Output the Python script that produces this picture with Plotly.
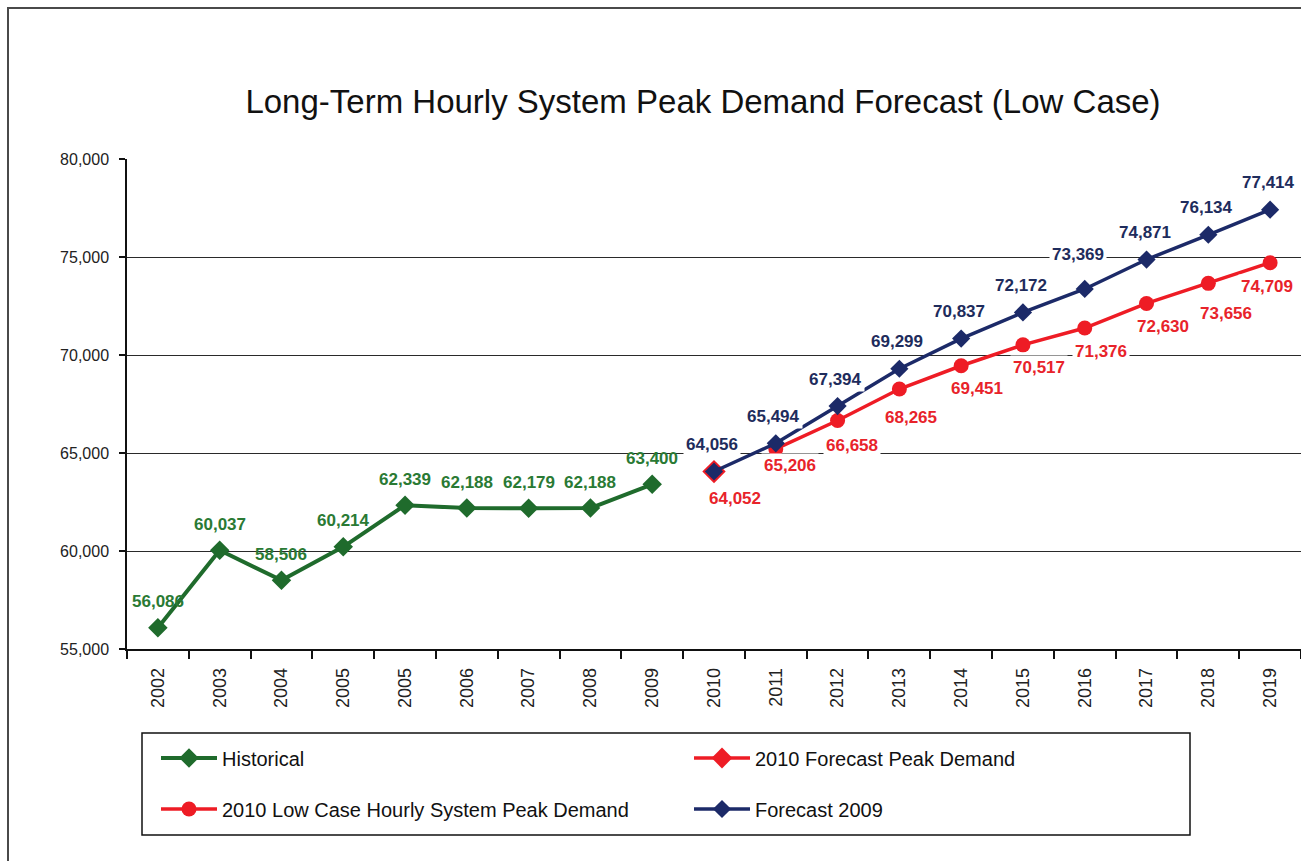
import plotly.graph_objects as go

# ---------------- data ----------------
years = ["2002", "2003", "2004", "2005", "2005", "2006", "2007", "2008", "2009",
         "2010", "2011", "2012", "2013", "2014", "2015", "2016", "2017", "2018", "2019"]
historical = [56086, 60037, 58506, 60214, 62339, 62188, 62179, 62188, 63400]
forecast_peak_2010 = [64052]
low_case_2010 = [65206, 66658, 68265, 69451, 70517, 71376, 72630, 73656, 74709]
forecast_2009 = [64056, 65494, 67394, 69299, 70837, 72172, 73369, 74871, 76134, 77414]
y_tick_values = [55000, 60000, 65000, 70000, 75000, 80000]

title_text = "Long-Term Hourly System Peak Demand Forecast (Low Case)"

# category positions (index on the category axis)
pos = list(range(len(years)))
x_hist = pos[0:len(historical)]
x_peak = pos[9:10]
x_low = pos[10:10 + len(low_case_2010)]
x_f09 = pos[9:9 + len(forecast_2009)]

FONT = "Liberation Sans, Arial, sans-serif"
GREEN = "#1f6b2c"
RED = "#ee1c25"
NAVY = "#1c2a68"

fig = go.Figure()

fig.add_trace(go.Scatter(
    x=x_hist, y=historical, name="Historical", mode="lines+markers",
    line=dict(color=GREEN, width=4),
    marker=dict(symbol="diamond", size=15, color=GREEN),
    legend="legend"))

fig.add_trace(go.Scatter(
    x=x_peak, y=forecast_peak_2010, name="2010 Forecast Peak Demand", mode="lines+markers",
    line=dict(color=RED, width=3.5),
    marker=dict(symbol="diamond", size=18, color=RED),
    legend="legend"))

fig.add_trace(go.Scatter(
    x=x_low, y=low_case_2010, name="2010 Low Case Hourly System Peak Demand",
    mode="lines+markers",
    line=dict(color=RED, width=3.5),
    marker=dict(symbol="circle", size=15, color=RED),
    legend="legend2"))

fig.add_trace(go.Scatter(
    x=x_f09, y=forecast_2009, name="Forecast 2009", mode="lines+markers",
    line=dict(color=NAVY, width=3.5),
    marker=dict(symbol="diamond", size=14, color=NAVY),
    legend="legend2"))

# ---------------- data labels ----------------
label_style = {
    "hist": dict(color="#2a7a34", dx=0, dy=26, bg=None),
    "peak": dict(color="#e8232a", dx=21, dy=-27, bg="white"),
    "low": dict(color="#e8232a", dx=16, dy=-23, bg="white"),
    "f09": dict(color="#1e2c5c", dx=-2, dy=27, bg="white"),
}
label_override = {
    ("low", 10): (14, -17),
    ("low", 11): (14, -25),
    ("low", 12): (12, -28),
    ("low", 17): (18, -30),
    ("low", 18): (-3, -24),
    ("f09", 15): (-7, 34),
}

def add_labels(key, xs, ys):
    st = label_style[key]
    for xi, yi in zip(xs, ys):
        dx, dy = label_override.get((key, xi), (st["dx"], st["dy"]))
        kw = dict(bgcolor=st["bg"], borderpad=2) if st["bg"] else {}
        fig.add_annotation(
            x=xi, y=yi, xref="x", yref="y", text=f"{yi:,}", showarrow=False,
            xshift=dx, yshift=dy, xanchor="center", yanchor="middle",
            font=dict(family=FONT, size=17, color=st["color"], weight="bold"),
            **kw)

add_labels("hist", x_hist, historical)
add_labels("peak", x_peak, forecast_peak_2010)
add_labels("low", x_low, low_case_2010)
add_labels("f09", x_f09, forecast_2009)

# ---------------- frames ----------------
L, R, T, B = 127, 0, 159, 212
W, H = 1301, 861
pw, ph = W - L - R, H - T - B

def px_x(p):
    return (p - L) / pw

def px_y(p):
    return (H - B - p) / ph

fig.add_shape(type="rect", xref="paper", yref="paper",
              x0=px_x(8), x1=px_x(1320), y0=px_y(880), y1=px_y(8),
              line=dict(color="#4a4a4a", width=2), fillcolor="rgba(0,0,0,0)", layer="below")
fig.add_shape(type="rect", xref="paper", yref="paper",
              x0=px_x(142), x1=px_x(1190), y0=px_y(835), y1=px_y(733),
              line=dict(color="#111111", width=1.5), fillcolor="rgba(0,0,0,0)")

legend_common = dict(
    orientation="h", xanchor="left", yanchor="middle", x=px_x(156),
    entrywidth=462, entrywidthmode="pixels", itemwidth=56,
    font=dict(family=FONT, size=20, color="#111111"),
    bgcolor="rgba(0,0,0,0)", borderwidth=0, traceorder="normal")

fig.update_layout(
    width=W, height=H,
    margin=dict(l=L, r=R, t=T, b=B, autoexpand=False),
    paper_bgcolor="white", plot_bgcolor="white",
    title=dict(text=title_text, x=703 / W, xanchor="center", y=1 - 101 / H, yanchor="middle",
               xref="container", yref="container",
               font=dict(family=FONT, size=33, color="#111111")),
    legend=dict(y=px_y(758), **legend_common),
    legend2=dict(y=px_y(809), **legend_common),
    showlegend=True,
)

fig.update_xaxes(
    range=[-0.5, len(years) - 0.5], tickmode="array", tickvals=pos, ticktext=years,
    tickangle=-90, ticks="", showgrid=False, zeroline=False,
    showline=True, linecolor="#111111", linewidth=1.5,
    ticklabelstandoff=10,
    tickfont=dict(family=FONT, size=18, color="#222222"),
    minor=dict(tickmode="array", tickvals=[p - 0.5 for p in pos] + [len(years) - 0.5],
               ticks="outside", ticklen=8, tickcolor="#111111", tickwidth=1.5, showgrid=False),
)
fig.update_yaxes(
    range=[55000, 80000], tickmode="array", tickvals=y_tick_values, tickformat=",",
    ticks="outside", ticklen=6, tickcolor="#111111", tickwidth=1.5,
    showgrid=True, gridcolor="#2a2a2a", gridwidth=1, zeroline=False,
    showline=True, linecolor="#111111", linewidth=1.5,
    ticklabelstandoff=7,
    tickfont=dict(family=FONT, size=16, color="#222222"),
)

fig.write_html("out.html", config={"displayModeBar": False},
               post_script="document.body.style.margin='0';document.body.style.overflow='hidden';")
